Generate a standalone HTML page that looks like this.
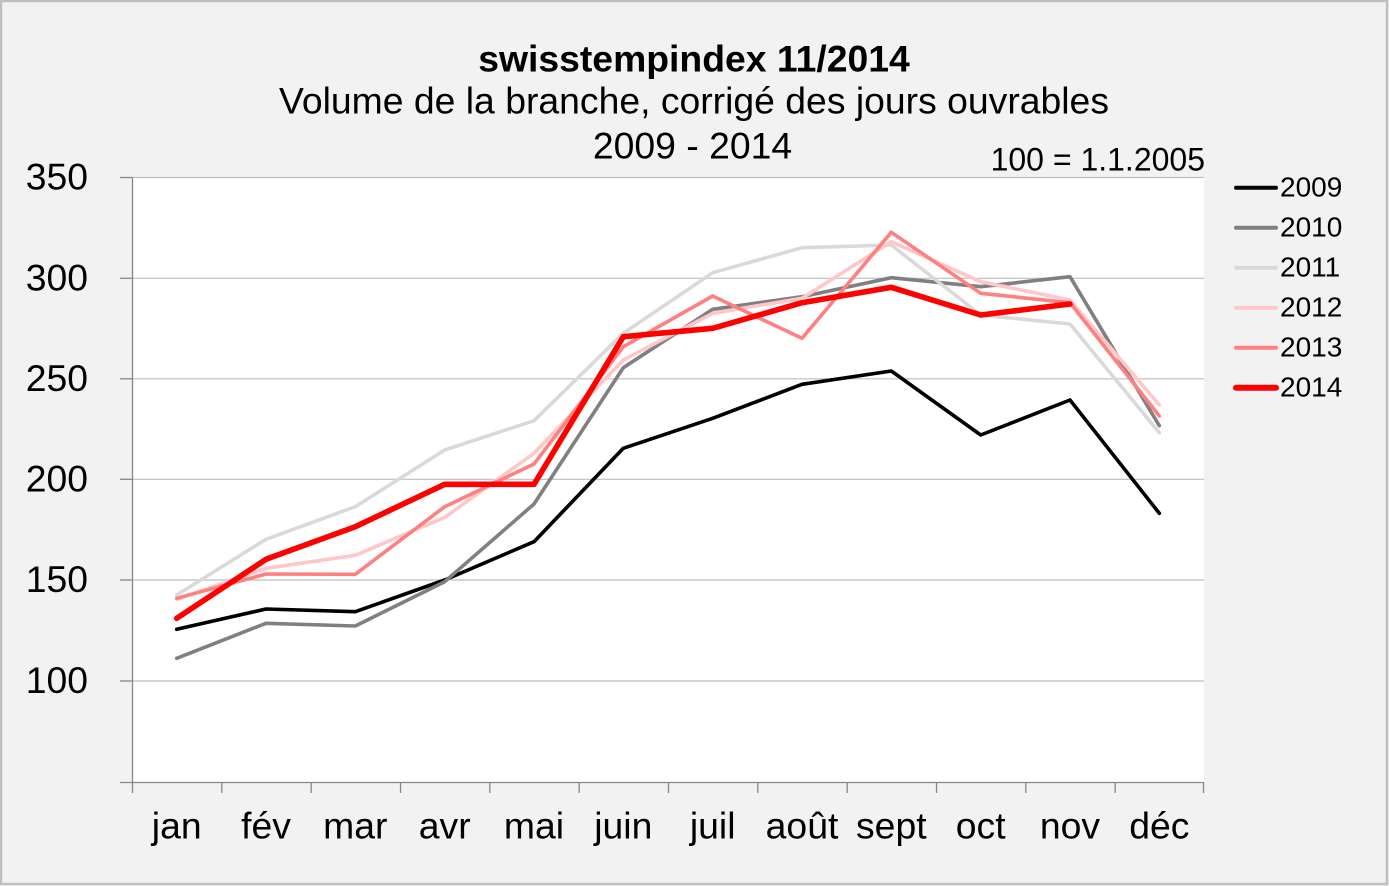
<!DOCTYPE html>
<html>
<head>
<meta charset="utf-8">
<style>
html,body{margin:0;padding:0;background:#f2f2f2;}
svg{display:block;}
text{font-family:"Liberation Sans",Arial,sans-serif;fill:#000;}
</style>
</head>
<body>
<svg width="1389" height="886" viewBox="0 0 1389 886" xmlns="http://www.w3.org/2000/svg">
  <rect x="0" y="0" width="1389" height="886" fill="#f2f2f2"/>
  <rect x="1" y="1" width="1386" height="883" fill="none" stroke="#bfbfbf" stroke-width="2.5"/>

  <!-- titles -->
  <text x="694" y="71.7" font-size="37.33" font-weight="bold" text-anchor="middle">swisstempindex 11/2014</text>
  <text x="694" y="113.3" font-size="37.33" text-anchor="middle">Volume de la branche, corrigé des jours ouvrables</text>
  <text x="692.5" y="158.3" font-size="37.33" text-anchor="middle">2009 - 2014</text>
  <text x="1205" y="170.7" font-size="32" text-anchor="end">100 = 1.1.2005</text>

  <!-- plot area -->
  <rect x="132" y="177.5" width="1072" height="604.5" fill="#ffffff"/>

  <!-- gridlines -->
  <g stroke="#bebebe" stroke-width="1.2">
    <line x1="132" y1="177.5" x2="1204" y2="177.5"/>
    <line x1="132" y1="278.3" x2="1204" y2="278.3"/>
    <line x1="132" y1="378.8" x2="1204" y2="378.8"/>
    <line x1="132" y1="479.3" x2="1204" y2="479.3"/>
    <line x1="132" y1="580" x2="1204" y2="580"/>
    <line x1="132" y1="681" x2="1204" y2="681"/>
  </g>

  <!-- axes -->
  <g stroke="#868686" stroke-width="1.3">
    <line x1="132.5" y1="177.5" x2="132.5" y2="782.5"/>
    <line x1="120" y1="782.5" x2="1204" y2="782.5"/>
    <line x1="120" y1="177.5" x2="132" y2="177.5"/>
    <line x1="120" y1="278.3" x2="132" y2="278.3"/>
    <line x1="120" y1="378.8" x2="132" y2="378.8"/>
    <line x1="120" y1="479.3" x2="132" y2="479.3"/>
    <line x1="120" y1="580" x2="132" y2="580"/>
    <line x1="120" y1="681" x2="132" y2="681"/>
    <line x1="132.5" y1="782" x2="132.5" y2="793"/>
    <line x1="221.8" y1="782" x2="221.8" y2="793"/>
    <line x1="311.2" y1="782" x2="311.2" y2="793"/>
    <line x1="400.5" y1="782" x2="400.5" y2="793"/>
    <line x1="489.8" y1="782" x2="489.8" y2="793"/>
    <line x1="579.2" y1="782" x2="579.2" y2="793"/>
    <line x1="668.5" y1="782" x2="668.5" y2="793"/>
    <line x1="757.8" y1="782" x2="757.8" y2="793"/>
    <line x1="847.2" y1="782" x2="847.2" y2="793"/>
    <line x1="936.5" y1="782" x2="936.5" y2="793"/>
    <line x1="1025.8" y1="782" x2="1025.8" y2="793"/>
    <line x1="1115.2" y1="782" x2="1115.2" y2="793"/>
    <line x1="1203.5" y1="782" x2="1203.5" y2="793"/>
  </g>

  <!-- y labels -->
  <g font-size="37.33" text-anchor="end">
    <text x="88" y="189.5">350</text>
    <text x="88" y="290.3">300</text>
    <text x="88" y="390.8">250</text>
    <text x="88" y="491.3">200</text>
    <text x="88" y="592">150</text>
    <text x="88" y="693">100</text>
  </g>

  <!-- x labels -->
  <g font-size="37.33" text-anchor="middle">
    <text x="176.7" y="838.3">jan</text>
    <text x="266" y="838.3">fév</text>
    <text x="355.3" y="838.3">mar</text>
    <text x="444.7" y="838.3">avr</text>
    <text x="534" y="838.3">mai</text>
    <text x="623.3" y="838.3">juin</text>
    <text x="712.7" y="838.3">juil</text>
    <text x="802" y="838.3">août</text>
    <text x="891.3" y="838.3">sept</text>
    <text x="980.7" y="838.3">oct</text>
    <text x="1070" y="838.3">nov</text>
    <text x="1159.3" y="838.3">déc</text>
  </g>

  <!-- series -->
  <g fill="none" stroke-linejoin="round" stroke-linecap="round">
    <polyline stroke="#000000" stroke-width="3.6" points="176.7,629.3 266,609 355.3,611.7 444.7,580 534,541.7 623.3,448.3 712.7,418.3 802,384.3 891.3,371 980.7,435 1070,400 1159.3,513.3"/>
    <polyline stroke="#808080" stroke-width="3.6" points="176.7,658.3 266,623.3 355.3,626 444.7,581.7 534,504 623.3,367.7 712.7,309.3 802,296.7 891.3,277.7 980.7,286.7 1070,276.7 1159.3,425.7"/>
    <polyline stroke="#d9d9d9" stroke-width="3.6" points="176.7,595 266,539.3 355.3,506.7 444.7,450 534,420.7 623.3,333.3 712.7,272.7 802,247.7 891.3,245 980.7,315 1070,324 1159.3,432.7"/>
    <polyline stroke="#ffc7c7" stroke-width="3.6" points="176.7,599.3 266,568.3 355.3,555.3 444.7,517.3 534,453.3 623.3,360 712.7,313.3 802,298.3 891.3,241.7 980.7,281.7 1070,300 1159.3,405"/>
    <polyline stroke="#ff8080" stroke-width="3.6" points="176.7,598.3 266,574 355.3,574.3 444.7,506.7 534,464 623.3,346.7 712.7,296 802,338.3 891.3,232.3 980.7,293.3 1070,302.7 1159.3,416"/>
    <polyline stroke="#ff0000" stroke-width="5.6" points="176.7,618.3 266,559.3 355.3,526.7 444.7,484.3 534,484.3 623.3,336.7 712.7,328.3 802,302.7 891.3,287.3 980.7,315 1070,304"/>
  </g>

  <!-- legend -->
  <g stroke-linecap="round">
    <line x1="1236" y1="187.7" x2="1276" y2="187.7" stroke="#000000" stroke-width="4"/>
    <line x1="1236" y1="227.7" x2="1276" y2="227.7" stroke="#808080" stroke-width="4"/>
    <line x1="1236" y1="267.7" x2="1276" y2="267.7" stroke="#d9d9d9" stroke-width="4"/>
    <line x1="1236" y1="307.7" x2="1276" y2="307.7" stroke="#ffc7c7" stroke-width="4"/>
    <line x1="1236" y1="347.7" x2="1276" y2="347.7" stroke="#ff8080" stroke-width="4"/>
    <line x1="1236" y1="387.7" x2="1276" y2="387.7" stroke="#ff0000" stroke-width="6"/>
  </g>
  <g font-size="28">
    <text x="1280" y="196.7">2009</text>
    <text x="1280" y="236.7">2010</text>
    <text x="1280" y="276.7">2011</text>
    <text x="1280" y="316.7">2012</text>
    <text x="1280" y="356.7">2013</text>
    <text x="1280" y="396.7">2014</text>
  </g>
</svg>
</body>
</html>
